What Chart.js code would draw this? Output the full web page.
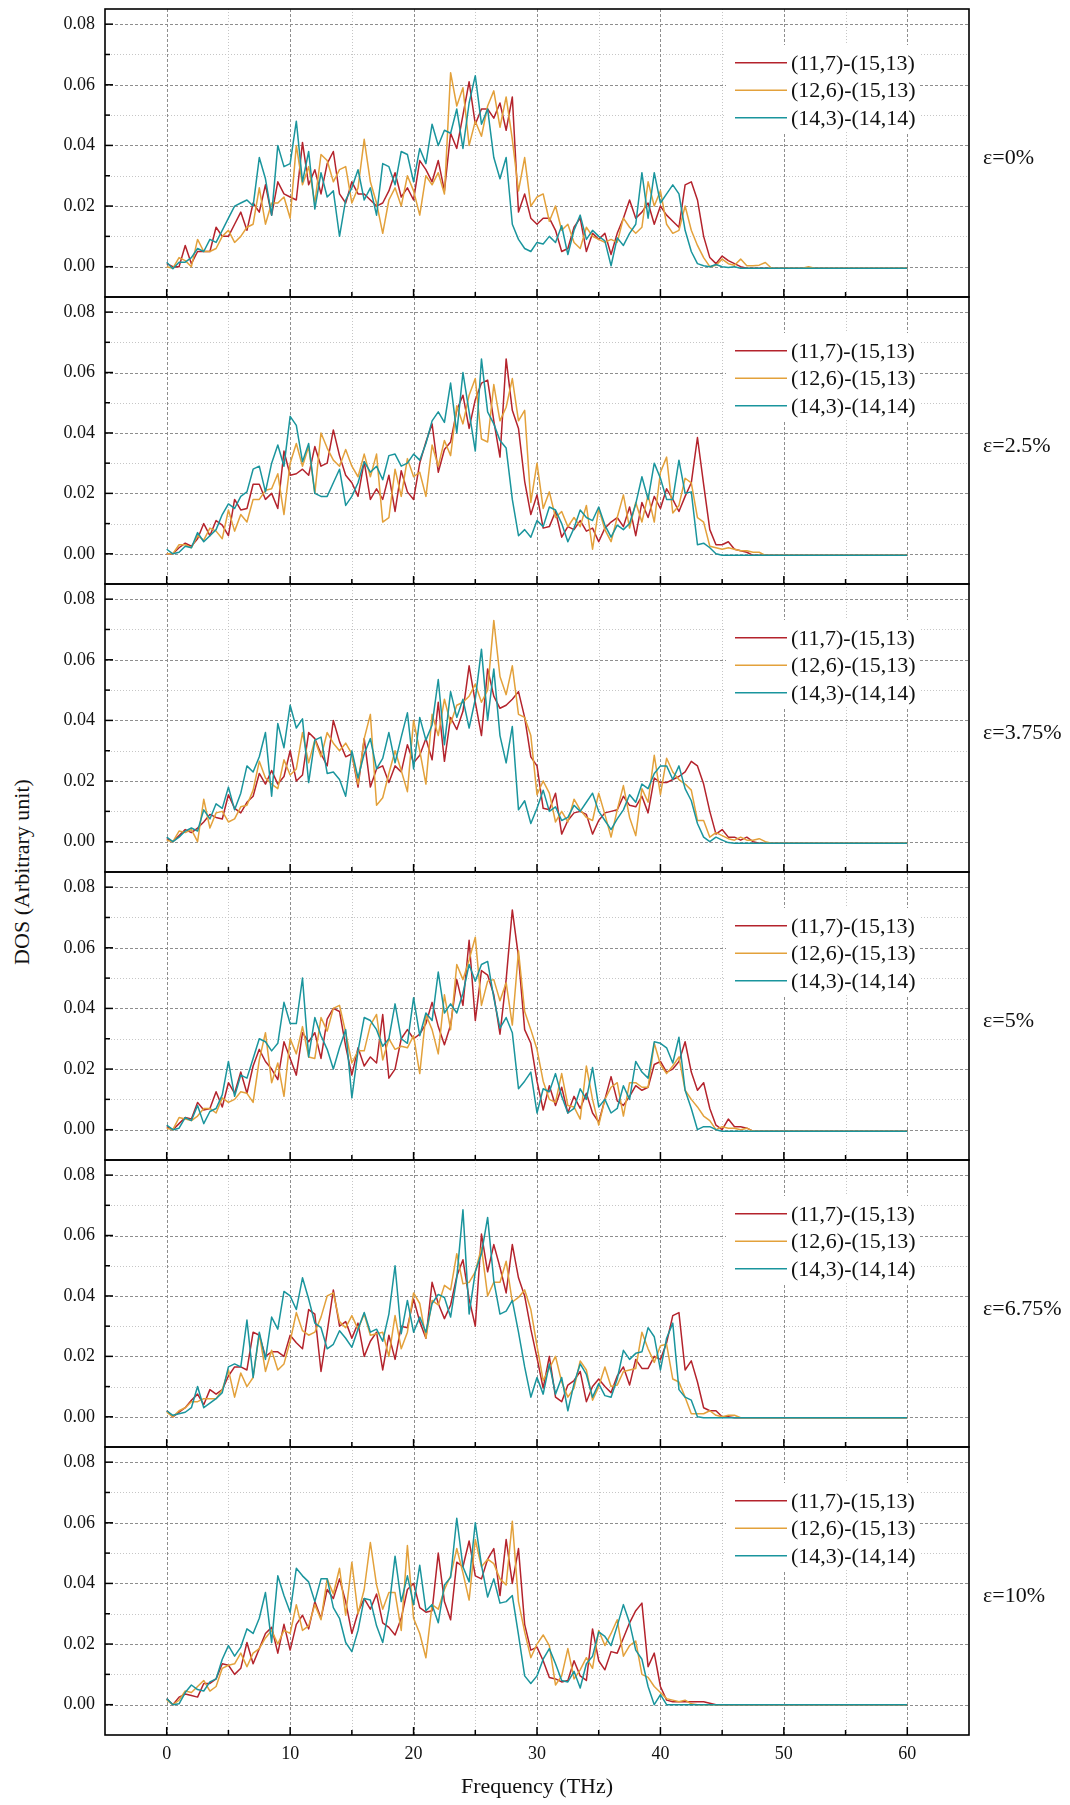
<!DOCTYPE html>
<html>
<head>
<meta charset="utf-8">
<title>DOS vs frequency under strain</title>
<script src="https://cdn.jsdelivr.net/npm/chart.js@4.4.1/dist/chart.umd.min.js"></script>
<style>
  html, body { margin: 0; padding: 0; background: #fff; }
  #fig { position: relative; width: 1070px; height: 1805px; overflow: hidden; }
  #fig canvas { position: absolute; left: 0; }
  #ytitle {
    position: absolute; left: 22px; top: 872px;
    transform: translate(-50%, -50%) rotate(-90deg);
    font: 22px "Liberation Serif", "Times New Roman", Times, serif;
    color: #111; white-space: nowrap;
  }
</style>
</head>
<body>
<div id="fig"><div id="ytitle">DOS (Arbitrary unit)</div></div>
<script>
// Phonon DOS of three heterojunctions at six strain levels.
// Frequency grid in THz; DOS values are read off the figure in units of 1e-3
// (so 20 means 0.02 on the printed axis).
const FREQ = [
  0, 0.5, 1, 1.5, 2, 2.5, 3, 3.5, 4, 4.5,
  5, 5.5, 6, 6.5, 7, 7.5, 8, 8.5, 9, 9.5,
  10, 10.5, 11, 11.5, 12, 12.5, 13, 13.5, 14, 14.5,
  15, 15.5, 16, 16.5, 17, 17.5, 18, 18.5, 19, 19.5,
  20, 20.5, 21, 21.5, 22, 22.5, 23, 23.5, 24, 24.5,
  25, 25.5, 26, 26.5, 27, 27.5, 28, 28.5, 29, 29.5,
  30, 30.5, 31, 31.5, 32, 32.5, 33, 33.5, 34, 34.5,
  35, 35.5, 36, 36.5, 37, 37.5, 38, 38.5, 39, 39.5,
  40, 40.5, 41, 41.5, 42, 42.5, 43, 43.5, 44, 44.5,
  45, 45.5, 46, 46.5, 47, 47.5, 48, 48.5, 49, 49.5,
  50, 50.5, 51, 51.5, 52, 52.5, 53, 53.5, 54, 54.5,
  55, 55.5, 56, 56.5, 57, 57.5, 58, 58.5, 59, 59.5,
  60
];

const SERIES_NAMES = ['(11,7)-(15,13)', '(12,6)-(15,13)', '(14,3)-(14,14)'];
const STRAIN_LABELS = ['ε=0%', 'ε=2.5%', 'ε=3.75%', 'ε=5%', 'ε=6.75%', 'ε=10%'];
const X_TICKS = [0, 10, 20, 30, 40, 50, 60];
const X_MINOR = [5, 15, 25, 35, 45, 55];
const Y_TICKS = [0, 20, 40, 60, 80];
const Y_TICK_LABELS = ['0.00', '0.02', '0.04', '0.06', '0.08'];
const Y_MINOR = [10, 30, 50, 70];

// ---- ε = 0% ----
const E0_A = [1,0,0,7,1,5,5,5,13,10, 10,14,18,12,21,18,27,17,28,24, 23,22,41,27,32,24,34,38,24,21,
  28,24,24,22,20,21,25,31,23,26, 22,35,32,28,35,25,44,39,50,61, 47,52,52,49,54,45,56,18,24,16,
  14,16,16,12,5,6,13,16,5,11, 9,11,4,11,16,22,16,18,21,14, 20,17,15,13,27,28,22,10,3,1,
  3.5,2,1,0,-0.5,-0.5,-0.5,-0.5,-0.5,-0.5, -0.5,-0.5,-0.5,-0.5,-0.5,-0.5,-0.5,-0.5,-0.5,-0.5,
  -0.5,-0.5,-0.5,-0.5,-0.5,-0.5,-0.5,-0.5,-0.5,-0.5, -0.5];
const E0_B = [0,-0.5,3,2,0,9,5,5,6,10, 12,8,10,13,14,26,14,21,21,23, 16,40,27,33,21,37,35,28,32,33,
  21,26,42,28,21,11,22,26,20,30, 25,17,30,27,31,24,64,53,59,40, 48,43,53,58,46,56,42,25,36,20,
  23,24,15,20,12,14,8,6,13,10, 9,8,9,8,16,13,11,13,28,20, 25,14,11,12,20,12,7,3,0,0.5,
  2.5,1,0.5,2.5,0.3,0.3,0.5,1.4,-0.5,-0.5, -0.5,-0.5,-0.5,-0.5,0,-0.5,-0.5,-0.5,-0.5,-0.5,
  -0.5,-0.5,-0.5,-0.5,-0.5,-0.5,-0.5,-0.5,-0.5,-0.5, -0.5];
const E0_C = [1.5,-0.7,1.5,1.5,3,6,5,9,8,12, 16,20,21,22,20,36,29,17,40,33, 34,48,28,38,19,31,23,25,10,22,
  26,32,22,26,17,34,33,27,38,37, 28,39,34,47,40,45,44,52,39,54, 63,47,52,36,29,36,14,9,6,5,
  8,7.5,10,8,13.5,4,12,17,9,12, 10,8.5,0.3,9.5,7,11,14,31,16,31, 21,24,27,24,12,5,1,0.3,0,0.7,
  0,-0.3,0,-0.5,-0.5,-0.5,-0.5,-0.5,-0.5,-0.5, -0.5,-0.5,-0.5,-0.5,-0.5,-0.5,-0.5,-0.5,-0.5,-0.5,
  -0.5,-0.5,-0.5,-0.5,-0.5,-0.5,-0.5,-0.5,-0.5,-0.5, -0.5];

// ---- ε = 2.5% ----
const E1_A = [0,0,2,3.5,2.5,5,10,6,11,9.5, 6,18,14.5,15,23,23,18,20,15,34, 26,26.5,28,26,35.5,29,30,41,32.5,26,
  23.5,19,30.5,18,21.5,18,26,14,27.5,20.5, 18,30,37,43,27,34.5,37,47.5,52.5,41.5, 51,56.5,57.5,44,32,64.5,47.5,41.5,24,13,
  19.5,8.5,9,14,5.5,9,8,11,7.5,8.5, 4,8.5,10.5,12,9,15.5,6,17,12,19, 15,21.5,18,14,19,23.5,38.5,23,8,3,
  3,4,1.5,1,0.5,-0.5,-0.5,-0.5,-0.5,-0.5, -0.5,-0.5,-0.5,-0.5,-0.5,-0.5,-0.5,-0.5,-0.5,-0.5,
  -0.5,-0.5,-0.5,-0.5,-0.5,-0.5,-0.5,-0.5,-0.5,-0.5, -0.5];
const E1_B = [0,0,3,3,2,6,4.5,8.5,7.5,5, 14.5,7.5,13,10.5,18,18,21,21.5,26.5,13, 30,36.5,29,35.5,20,40,35,31,29,34.5,
  29,25.5,33,25.5,33,10.5,12,28,19,31.5, 25.5,27,19,36,29,37.5,32.5,49,43,52.5, 58,38,37,56,44,48.5,58,44,47.5,17,
  30,15,20.5,12,14,9,12,9,16,1.5, 15,8,4,12,19.5,8.5,17,10.5,19.5,10.5, 27,32,13.5,16,25,23.5,12,10.5,2.5,2,
  1.5,2,1.5,1,1,0.5,0.5,-0.5,-0.5,-0.5, -0.5,-0.5,-0.5,-0.5,-0.5,-0.5,-0.5,-0.5,-0.5,-0.5,
  -0.5,-0.5,-0.5,-0.5,-0.5,-0.5,-0.5,-0.5,-0.5,-0.5, -0.5];
const E1_C = [1.5,0,0.5,2.5,2,7,4,6,8,13, 16.5,15,19,20.5,28,29,20.5,30,36,29, 45.5,42.5,30.5,36.5,20,19,19,23.5,28,16,
  19,23.5,30.5,27,29,24.5,32.5,33,29,30, 33,31,36.5,44,47,43.5,56.5,40,60,47, 34,64.5,47,43,37.5,35,18,6,8,5.5,
  11,9,15.5,14.5,10,4,8.5,14.5,12,11, 15.5,9.5,5.5,9.5,8,10,16.5,25.5,18,30, 25,18,18,31,20,20.5,3,3.5,2,0,
  -0.5,-0.5,-0.5,-0.5,-0.5,-0.5,-0.5,-0.5,-0.5,-0.5, -0.5,-0.5,-0.5,-0.5,-0.5,-0.5,-0.5,-0.5,-0.5,-0.5,
  -0.5,-0.5,-0.5,-0.5,-0.5,-0.5,-0.5,-0.5,-0.5,-0.5, -0.5];

// ---- ε = 3.75% ----
const E2_A = [1,0,2,4,3,4.5,6.5,9,8,7.5, 15.5,11,9.5,13,15,22.5,19,23.5,19,21.5, 30,20,22,36,34,29,25,40,33,28,
  29,18,34,18,24,25,19.5,25,23,32, 26,28.5,34,27,46,26.5,41,37,43,58, 46,35,57,48,44,45,47,49.5,41,28,
  25,11,10.5,16,2.5,7,9.5,10,9,2.5, 7,9.5,10,10.5,15,12,11.5,15,9.5,21, 19.5,19.5,20.5,21.5,23,26.5,25,19,10,2.5,
  4,1.5,1.5,0.5,1.5,0,-0.5,-0.5,-0.5,-0.5, -0.5,-0.5,-0.5,-0.5,-0.5,-0.5,-0.5,-0.5,-0.5,-0.5,
  -0.5,-0.5,-0.5,-0.5,-0.5,-0.5,-0.5,-0.5,-0.5,-0.5, -0.5];
const E2_B = [0.5,0,3.5,3,4,0,14,4.5,9.5,10, 6.5,7.5,11.5,12,17,26.5,21,19,17.5,27, 22,24,36,26,33.5,28,36,32.5,30,32.5,
  29,19,34,42,12,14.5,22.5,30,23.5,16.5, 40,30,19,42,35,47,39,45,46,48, 52,46,50,73,54.5,48.5,58,42,41,35,
  15.5,20,16,6.5,10,6.5,14,10.5,8,7, 16,9,1.5,10.5,18.5,8,2,17.5,13,28.5, 15.5,27.5,23,20.5,19,17,7,7,1.5,3,
  2,1,0.5,1.5,0.5,0.5,1,0,-0.5,-0.5, -0.5,-0.5,-0.5,-0.5,-0.5,-0.5,-0.5,-0.5,-0.5,-0.5,
  -0.5,-0.5,-0.5,-0.5,-0.5,-0.5,-0.5,-0.5,-0.5,-0.5, -0.5];
const E2_C = [1.5,0,1.5,3.5,4.5,3.5,10.5,7.5,12.5,11, 18,10.5,16,25,23,28,36,15,39,31, 45,37.5,40.5,19.5,33.5,34.5,22.5,23,20.5,15,
  30,21,29,34,24,27.5,36,26,34.5,42.5, 24,41,33.5,38.5,53.5,32,49.5,41,47,37.5, 47,63.5,40,57,35,26,38,10.5,13.5,6,
  11,17,10,11.5,7,8,12,10,13,16, 10,7,4,7.5,10.5,15.5,13,19,17.5,22.5, 25,25,20.5,25,17.5,13.5,6,1.5,0,1.5,
  0.5,-0.3,-0.5,-0.5,-0.5,-0.5,-0.5,-0.5,-0.5,-0.5, -0.5,-0.5,-0.5,-0.5,-0.5,-0.5,-0.5,-0.5,-0.5,-0.5,
  -0.5,-0.5,-0.5,-0.5,-0.5,-0.5,-0.5,-0.5,-0.5,-0.5, -0.5];

// ---- ε = 5% ----
const E3_A = [1,0,2,4,3.5,9,6.5,7,12.5,7.5, 15.5,12,19,12,21,26.5,22.5,20,16.5,29, 23.5,18,32,29,32,23.5,36.5,40,39,27.5,
  18,27,21,24,22,38,17,20,30,33, 30,31.5,35,42,34,28,34.5,49.5,41,62.5, 36,52.5,51,44.5,31.5,49.5,72.5,57,33,28.5,
  16,6.5,14.5,8,14,5.5,11,7,12,5.5, 2.5,10,17.5,9.5,8,11,14.5,13,14,21.5, 22.5,19,20,22.5,29,19,13,15.5,7,1.5,
  0,3.5,1,1,0.5,-0.5,-0.5,-0.5,-0.5,-0.5, -0.5,-0.5,-0.5,-0.5,-0.5,-0.5,-0.5,-0.5,-0.5,-0.5,
  -0.5,-0.5,-0.5,-0.5,-0.5,-0.5,-0.5,-0.5,-0.5,-0.5, -0.5];
const E3_B = [0.5,0,4,3.5,3,4.5,7,7,5.5,10.5, 9,10,12.5,12,9,23,32,15.5,22,11, 30,25,34,24,23.5,37,32.5,40,41,32,
  22,26,26,34.5,38,23,30,26.5,27.5,27, 31,18.5,38,33,25,44.5,33,54.5,49.5,56, 63.5,41,49,49.5,42.5,48.5,34.5,59,39,33,
  26.5,16,10,9,18.5,8,7.5,3.5,21,10, 1.5,10,14,15.5,4.5,15.5,15.5,14,14,28.5, 21.5,18.5,21,24,13,10,7.5,4.5,3,0,
  1,0.5,0.5,0,0.5,-0.5,-0.5,-0.5,-0.5,-0.5, -0.5,-0.5,-0.5,-0.5,-0.5,-0.5,-0.5,-0.5,-0.5,-0.5,
  -0.5,-0.5,-0.5,-0.5,-0.5,-0.5,-0.5,-0.5,-0.5,-0.5, -0.5];
const E3_C = [1.5,0,0.5,4,3,8,2,6,7,11.5, 22.5,11,18,17,23.5,30,29,26,28.5,42, 35,35,50,24,37,31,26.5,20,27,33,
  10.5,26,37,36,33,27.5,30,41.5,30,28.5, 43.5,31,38.5,36,52,38.5,41.5,38.5,45,54.5, 49,54.5,55.5,43.5,33.5,37,32,13.5,16,19,
  5.5,13.5,12.5,18.5,11,5.5,7,13.5,10,20.5, 7.5,10,5.5,7,14.5,10,22.5,19,17,29, 28.5,27,22,30.5,13,7,0,1,1,0,
  -0.5,-0.5,-0.5,-0.5,-0.5,-0.5,-0.5,-0.5,-0.5,-0.5, -0.5,-0.5,-0.5,-0.5,-0.5,-0.5,-0.5,-0.5,-0.5,-0.5,
  -0.5,-0.5,-0.5,-0.5,-0.5,-0.5,-0.5,-0.5,-0.5,-0.5, -0.5];

// ---- ε = 6.75% ----
const E4_A = [2,0,1.5,3,5.5,7.5,4,9,7.5,9, 13.5,16.5,16.5,15.5,28,27,20,21.5,21.5,20, 27,24.5,22.5,35.5,34,15,28,42,30,31.5,
  26,31,20,25,28,15.5,27,19,30,29.5, 39,31.5,26,44.5,37.5,32.5,37,46.5,52,39, 30,60.5,48,57,49.5,41,57,46,40,29,
  19.5,9.5,20,6.5,5,10.5,12,15,5,10, 12.5,10,8,13.5,16.5,10.5,19,16,16,20, 19,24.5,33.5,34.5,15.5,18.5,11.5,3,2,2,
  0,0,-0.3,-0.3,-0.3,-0.3,-0.3,-0.3,-0.3,-0.3, -0.3,-0.3,-0.3,-0.3,-0.3,-0.3,-0.3,-0.3,-0.3,-0.3,
  -0.3,-0.3,-0.3,-0.3,-0.3,-0.3,-0.3,-0.3,-0.3,-0.3, -0.3];
const E4_B = [1.5,0,2,3,5,5,6,6,6,9, 15.5,6.5,14.5,10,13,27.5,15,22,15.5,17.5, 25,34.5,28.5,27,28,33,40,41,31.5,29.5,
  33.5,29,34,27,27.5,28,20,33.5,22.5,28, 41,37.5,26,38.5,37,43.5,42,54,44,44.5, 48,56,40,44.5,44.5,51.5,38,39.5,42,35.5,
  23.5,12,16,20,11.5,6.5,9.5,18.5,15.5,5.5, 10,16.5,10,10.5,15,15.5,16,28,22.5,18, 23.5,24,12.5,11.5,6.5,1,1,1,2,0.5,
  0,0.5,0.5,-0.3,-0.3,-0.3,-0.3,-0.3,-0.3,-0.3, -0.3,-0.3,-0.3,-0.3,-0.3,-0.3,-0.3,-0.3,-0.3,-0.3,
  -0.3,-0.3,-0.3,-0.3,-0.3,-0.3,-0.3,-0.3,-0.3,-0.3, -0.3];
const E4_C = [2,0.5,1,1.5,3,10,3,4.5,6,8, 16.5,17.5,16.5,32,13,28,19,33,29,41.5, 40,35.5,46,39,31,29.5,22.5,24,28.5,26,
  23,29,34.5,28,29,25,34,50,27.5,38.5, 28,33,28,37.5,40.5,39.5,33,46,68.5,34, 48,54,66,45,34,35,38.5,28,16.5,6.5,
  13,7.5,17.5,7.5,13,2,11,17.5,14,6.5, 11,7,6.5,12.5,22,19,21,21.5,29.5,26.5, 15.5,26,31,9,6.5,5.5,0,-0.3,-0.3,-0.3,
  -0.3,-0.3,-0.3,-0.3,-0.3,-0.3,-0.3,-0.3,-0.3,-0.3, -0.3,-0.3,-0.3,-0.3,-0.3,-0.3,-0.3,-0.3,-0.3,-0.3,
  -0.3,-0.3,-0.3,-0.3,-0.3,-0.3,-0.3,-0.3,-0.3,-0.3, -0.3];

// ---- ε = 10% ----
const E5_A = [2,0,2.5,3.5,3,2.5,7,7,8.5,13.5, 13,10,12,20.5,13.5,18.5,23.5,25.5,17,26.5, 18,26.5,29.5,25,34,28.5,38,35,41.5,34,
  23.5,30.5,35,31.5,36.5,27,25.5,23,28.5,38, 40,32,30.5,31,50,34,28,47,45.5,54, 42.5,41.5,48,51.5,36,54.5,40,51.5,26.5,18,
  19,14.5,9,8.5,7.5,8,14.5,9.5,8,25, 14.5,11.5,17.5,17,22,27,31,33.5,12.5,17, 6,1.5,1,1,1,1,1,1,0.5,0,
  0,0,0,0,0,0,0,0,0,0, 0,0,0,0,0,0,0,0,0,0,
  0,0,0,0,0,0,0,0,0,0, 0];
const E5_B = [1.5,0,1.5,4.5,4,6,8,4.5,6,12, 13,13.5,17,12.5,17,18.5,22,24.5,20,24.5, 23.5,33,24.5,26,33,28,41.5,36.5,45,29.5,
  47,30,38,53.5,39.5,31.5,37,37,24.5,52.5, 28.5,23.5,15.5,33,31.5,38,42.5,51.5,43.5,34.5, 54.5,45.5,48,46.5,41.5,39.5,60.5,34,24,15.5,
  20,23,19.5,6.5,9.5,18.5,8.5,11.5,15.5,12, 24.5,19.5,23.5,28,16,19.5,21,10,9,6, 4,2,1.5,1,1.5,0.3,0,0,0,0,
  0,0,0,0,0,0,0,0,0,0, 0,0,0,0,0,0,0,0,0,0,
  0,0,0,0,0,0,0,0,0,0, 0];
const E5_C = [2,0,0.3,4,6.5,5,4.5,7.5,8.5,15, 19.5,16,19,25,23.5,28.5,37,20.5,42.5,36, 30.5,45,42.5,40.5,34,41.5,41.5,32,28.5,20.5,
  17.5,24.5,35,34.5,26,20.5,31.5,49,34,42.5, 33,46,31,33,27,39.5,42,61.5,45.5,40.5, 60,46,35.5,41.5,33.5,34,36,23,9.5,7,
  9.5,15,18.5,13.5,8,7.5,11,5.5,13.5,16, 24,22.5,19.5,26,33,27,18,15,6,0, 3.3,0,0,0,0,0,0,0,0,0,
  0,0,0,0,0,0,0,0,0,0, 0,0,0,0,0,0,0,0,0,0,
  0,0,0,0,0,0,0,0,0,0, 0];

const PANELS = [
  [E0_A, E0_B, E0_C], [E1_A, E1_B, E1_C], [E2_A, E2_B, E2_C],
  [E3_A, E3_B, E3_C], [E4_A, E4_B, E4_C], [E5_A, E5_B, E5_C]
];

const SERIF = '"Liberation Serif", "Times New Roman", Times, serif';
const COLORS = ['#b4232c', '#e3a13b', '#1a959d'];
const INK = '#111';

// panel geometry (page pixels)
const FIG_H = 1805, PANEL_TOP0 = 9.2, PANEL_STEP = 287.63, EDGE = 3, XAXIS_H = 70;

function panelPlugin(idx) {
  return {
    id: 'panelDecor',
    beforeDatasetsDraw(chart) {
      const {ctx, chartArea: a, scales: {x, y}} = chart;
      ctx.save();
      ctx.lineWidth = 1;
      const vline = v => { const p = Math.round(x.getPixelForValue(v)) + 0.5; ctx.beginPath(); ctx.moveTo(p, a.top); ctx.lineTo(p, a.bottom); ctx.stroke(); };
      const hline = v => { const p = Math.round(y.getPixelForValue(v)) + 0.5; ctx.beginPath(); ctx.moveTo(a.left, p); ctx.lineTo(a.right, p); ctx.stroke(); };
      ctx.strokeStyle = '#c6c6c6'; ctx.setLineDash([1, 2]);
      X_MINOR.forEach(vline); Y_MINOR.forEach(hline);
      ctx.strokeStyle = '#8e8e8e'; ctx.setLineDash([3, 2]);
      X_TICKS.forEach(vline); Y_TICKS.forEach(hline);
      ctx.restore();
    },
    afterDatasetsDraw(chart) {
      const {ctx, chartArea: a, scales: {x, y}} = chart;
      ctx.save();
      // legend box hides the grid behind it
      ctx.fillStyle = '#fff';
      ctx.fillRect(726, a.top + 36, 194, 87);
      ctx.setLineDash([]);
      ctx.strokeStyle = '#000';
      ctx.lineWidth = 1.5;
      const tx = (v, len) => { const p = x.getPixelForValue(v); ctx.beginPath(); ctx.moveTo(p, a.bottom); ctx.lineTo(p, a.bottom - len); ctx.stroke(); };
      const ty = (v, len) => { const p = y.getPixelForValue(v); ctx.beginPath(); ctx.moveTo(a.left, p); ctx.lineTo(a.left + len, p); ctx.stroke(); };
      X_TICKS.forEach(v => tx(v, 8)); X_MINOR.forEach(v => tx(v, 5));
      Y_TICKS.forEach(v => ty(v, 8)); Y_MINOR.forEach(v => ty(v, 5));
      ctx.lineWidth = 1.6;
      ctx.strokeRect(a.left, a.top, a.right - a.left, a.bottom - a.top);
      ctx.restore();
    },
    afterDraw(chart) {
      const {ctx, chartArea: a} = chart;
      ctx.save();
      ctx.font = '22px ' + SERIF;
      ctx.textAlign = 'left';
      ctx.textBaseline = 'middle';
      ctx.fillStyle = INK;
      SERIES_NAMES.forEach((name, k) => {
        const yy = a.top + 53.8 + k * 27.5;
        ctx.strokeStyle = COLORS[k];
        ctx.lineWidth = 1.5;
        ctx.beginPath(); ctx.moveTo(735, yy); ctx.lineTo(787, yy); ctx.stroke();
        ctx.fillText(name, 791, yy + 1);
      });
      ctx.fillText(STRAIN_LABELS[idx], 983, a.top + 149);
      ctx.restore();
    }
  };
}

function makePanel(idx) {
  const last = idx === PANELS.length - 1;
  const top = Math.round(PANEL_TOP0 + idx * PANEL_STEP);
  const next = last ? 1735 : Math.round(PANEL_TOP0 + (idx + 1) * PANEL_STEP);
  const areaH = next - top;
  const cv = document.createElement('canvas');
  const h = last ? FIG_H - top + EDGE : areaH + 2 * EDGE;
  cv.width = 1070; cv.height = h;
  cv.style.width = '1070px'; cv.style.height = h + 'px';
  cv.style.top = (top - EDGE) + 'px';
  document.getElementById('fig').appendChild(cv);

  const datasets = PANELS[idx].map((vals, k) => ({
    label: SERIES_NAMES[k],
    data: FREQ.map((f, j) => ({x: f, y: vals[j]})),
    borderColor: COLORS[k],
    borderWidth: 1.5,
    borderJoinStyle: 'round',
    pointRadius: 0,
    tension: 0,
    fill: false,
    order: 2 - k
  }));

  new Chart(cv, {
    type: 'line',
    data: {datasets},
    options: {
      responsive: false,
      animation: false,
      devicePixelRatio: 1,
      events: [],
      layout: {padding: {left: 0, right: 101, top: EDGE, bottom: last ? 0 : EDGE}},
      plugins: {legend: {display: false}, tooltip: {enabled: false}},
      scales: {
        x: {
          type: 'linear', min: -5, max: 65, display: last,
          grid: {display: false, drawTicks: false},
          border: {display: false},
          afterBuildTicks: s => { s.ticks = X_TICKS.map(v => ({value: v})); },
          ticks: {font: {family: SERIF, size: 18}, color: INK, padding: 8, maxRotation: 0,
                  callback: (v, i) => String(X_TICKS[i])},
          title: {display: true, text: 'Frequency (THz)', color: INK,
                  font: {family: SERIF, size: 22}, padding: {top: 0, bottom: 5}},
          afterFit: s => { s.height = last ? XAXIS_H : 0; s.paddingLeft = 0; s.paddingRight = 0; }
        },
        y: {
          type: 'linear', min: -10, max: 85,
          grid: {display: false, drawTicks: false},
          border: {display: false},
          afterBuildTicks: s => { s.ticks = Y_TICKS.map(v => ({value: v})); },
          ticks: {font: {family: SERIF, size: 18}, color: INK, padding: 10,
                  callback: (v, i) => Y_TICK_LABELS[i]},
          afterFit: s => { s.width = 105; s.paddingTop = 0; s.paddingBottom = 0; }
        }
      }
    },
    plugins: [panelPlugin(idx)]
  });
}

PANELS.forEach((_, i) => makePanel(i));
</script>
</body>
</html>
